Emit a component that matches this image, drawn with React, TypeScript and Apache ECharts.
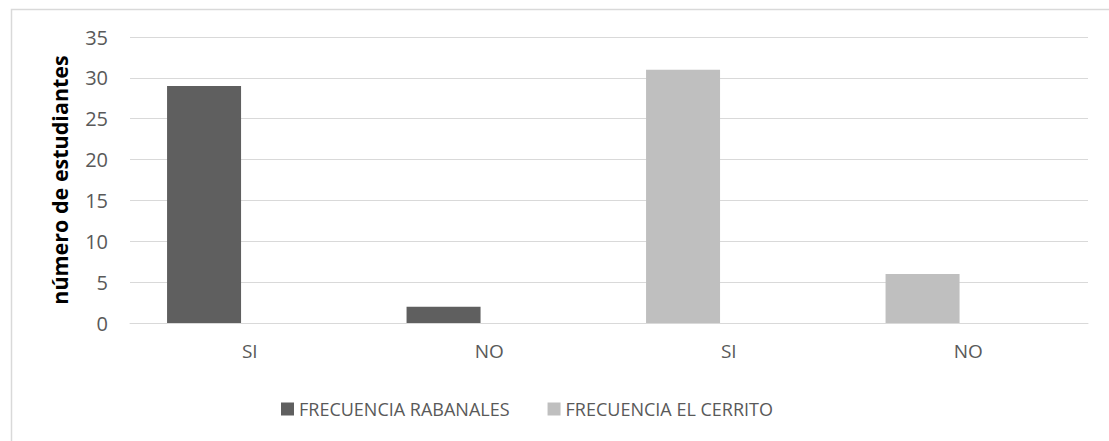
import React, { useEffect, useRef } from "react";
import * as echarts from "echarts";

const categories = ["SI", "NO", "SI", "NO"];
const rabanales = [29, 2, "-", "-"];
const elCerrito = ["-", "-", 31, 6];
const emptySlot = ["-", "-", "-", "-"];
const yTicks = { min: 0, max: 35, interval: 5 };
const seriesNames = ["FRECUENCIA RABANALES", "FRECUENCIA EL CERRITO"];
const yAxisTitle = "número de estudiantes";

const FONT = "'Open Sans', sans-serif";

export default function App() {
  const ref = useRef<HTMLDivElement>(null);
  useEffect(() => {
    if (!ref.current) return;
    const chart = echarts.init(ref.current, null, { renderer: "svg" });
    chart.setOption({
      animation: false,
      backgroundColor: "#ffffff",
      textStyle: { fontFamily: FONT },
      graphic: [
        {
          type: "rect",
          left: 9,
          top: 7,
          shape: { width: 1110, height: 460 },
          style: { fill: "none", stroke: "#d9d9d9", lineWidth: 1.5 },
          silent: true,
        },
      ],
      grid: { left: 130, right: 21, top: 37, bottom: 118 },
      legend: {
        data: seriesNames,
        left: 276,
        top: 395,
        icon: "rect",
        itemWidth: 13,
        itemHeight: 13,
        itemGap: 38,
        textStyle: { color: "#595959", fontSize: 18, fontFamily: FONT },
      },
      xAxis: {
        type: "category",
        data: categories,
        axisTick: { show: false },
        axisLine: { show: true, lineStyle: { color: "#d9d9d9", width: 1 } },
        axisLabel: { color: "#595959", fontSize: 19, margin: 18, fontFamily: FONT },
      },
      yAxis: {
        type: "value",
        min: yTicks.min,
        max: yTicks.max,
        interval: yTicks.interval,
        name: yAxisTitle,
        nameLocation: "middle",
        nameRotate: 90,
        nameGap: 60,
        nameTextStyle: { color: "#000000", fontSize: 21.5, fontWeight: "bold", fontFamily: FONT },
        axisLine: { show: false },
        axisTick: { show: false },
        axisLabel: { color: "#595959", fontSize: 20, margin: 22, fontFamily: FONT },
        splitLine: { lineStyle: { color: "#d9d9d9", width: 1 } },
      },
      series: [
        {
          name: seriesNames[0],
          type: "bar",
          stack: "main",
          data: rabanales,
          barWidth: 74,
          barGap: "23.5%",
          itemStyle: { color: "#5f5f5f" },
        },
        {
          name: seriesNames[1],
          type: "bar",
          stack: "main",
          data: elCerrito,
          barWidth: 74,
          barGap: "23.5%",
          itemStyle: { color: "#bfbfbf" },
        },
        {
          name: "empty",
          type: "bar",
          data: emptySlot,
          barWidth: 74,
          barGap: "23.5%",
          itemStyle: { color: "#ffffff" },
        },
      ],
    });
    return () => chart.dispose();
  }, []);
  return (
    <div
      ref={ref}
      style={{ position: "fixed", left: 0, top: 0, width: 1109, height: 441 }}
    />
  );
}
